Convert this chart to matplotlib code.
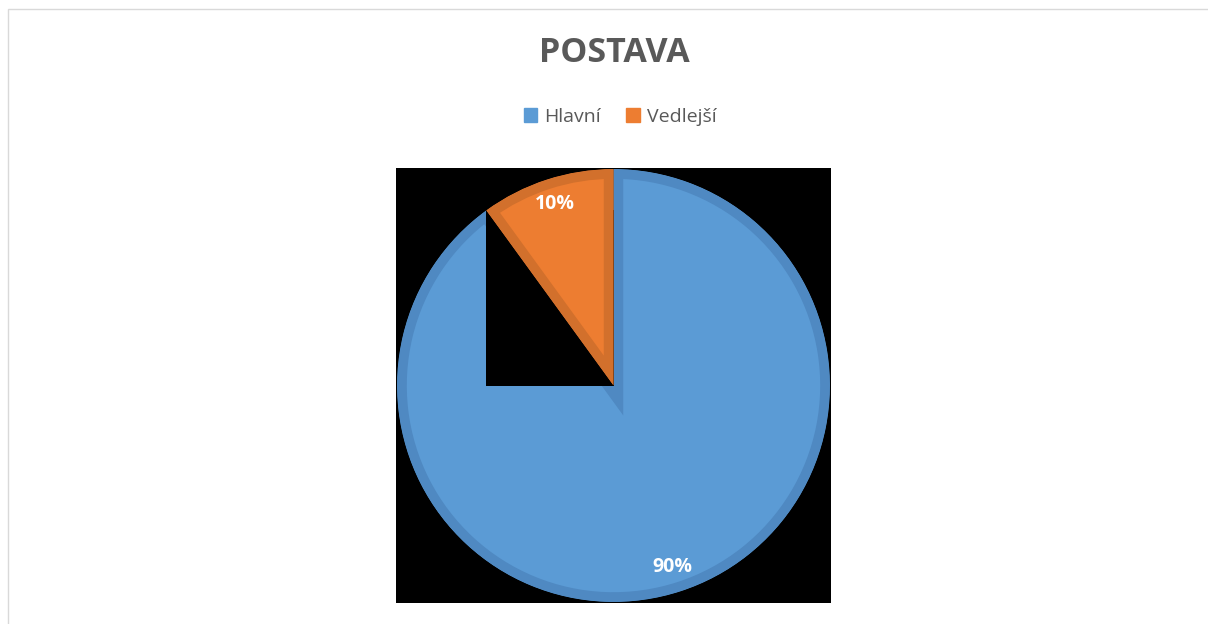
import matplotlib.pyplot as plt
from matplotlib.patches import Rectangle, Patch
import numpy as np

# Data
kategorie = ['Hlavní', 'Vedlejší']
hodnoty = [90, 10]
barvy = ['#5B9BD5', '#ED7D31']
okraje = ['#4F89C2', '#D2702C']

plt.rcParams['font.family'] = ['Open Sans', 'DejaVu Sans']

fig = plt.figure(figsize=(12.08, 6.24), dpi=100)

# chart area border (light gray)
fig.patches.append(Rectangle((8 / 1208, -0.1), 1.2, (624 - 9) / 624 + 0.1,
                             transform=fig.transFigure, fill=False,
                             edgecolor='#D9D9D9', linewidth=1))

ax = fig.add_axes([396 / 1208, 21 / 624, 435 / 1208, 435 / 624])
ax.set_xlim(-1, 1)
ax.set_ylim(-1, 1)

r = 0.995
wedges, texts, autotexts = ax.pie(
    hodnoty, colors=barvy, startangle=90, counterclock=False, radius=r,
    autopct='%1.0f%%', pctdistance=0.88,
    wedgeprops=dict(linewidth=14, edgecolor='none'),
    textprops=dict(color='white', fontsize=14, fontweight='bold'))
# inner border: stroke clipped to the wedge itself
for w, e in zip(wedges, okraje):
    w.set_edgecolor(e)
    w.set_clip_on(True)
    w.set_clip_path(w)

ax.set_frame_on(True)
ax.set_facecolor('black')

# black gap next to the small slice (as rendered in the original)
th = np.deg2rad(wedges[1].theta2)
x0, y0 = r * np.cos(th), r * np.sin(th)
ax.add_patch(Rectangle((x0, 0), -x0, y0, facecolor='black', edgecolor='none', zorder=2))
wedges[0].set_zorder(1)
wedges[1].set_zorder(3)
for t in autotexts:
    t.set_zorder(5)

ax.set_xlim(-1, 1)
ax.set_ylim(-1, 1)
ax.set_aspect('auto')
ax.set_xticks([])
ax.set_yticks([])
for s in ax.spines.values():
    s.set_visible(False)

fig.text(614 / 1208, 1 - 53 / 624, 'POSTAVA', ha='center', va='center',
         fontsize=24.5, fontweight='bold', color='#595959')

handles = [Patch(facecolor=c, edgecolor=c) for c in barvy]
fig.legend(handles, kategorie, loc='center', bbox_to_anchor=(620 / 1208, 1 - 117 / 624),
           ncol=2, frameon=False, fontsize=14, labelcolor='#595959',
           handlelength=0.7, handleheight=0.7, handletextpad=0.35, columnspacing=1.3)

fig.savefig('out.png', dpi=100, facecolor='white')
